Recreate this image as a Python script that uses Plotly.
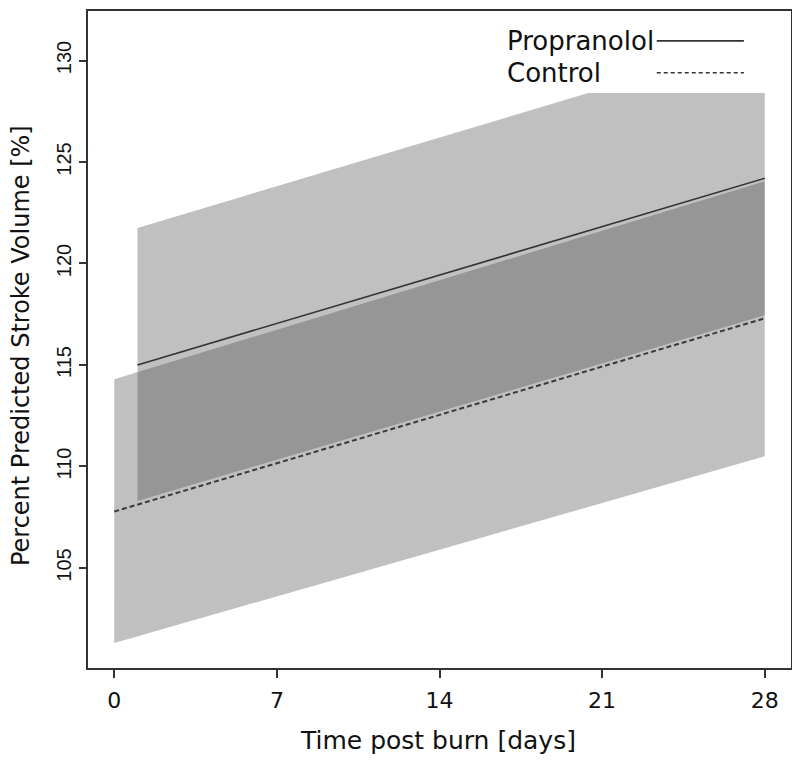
import plotly.graph_objects as go

# ---- data ----
prop_days = [1, 28]
prop_mean = [115.0, 124.2]
prop_upper_days = [1, 20.4, 28]
prop_upper = [121.75, 128.4, 128.4]
prop_lower_days = [1, 28]
prop_lower = [108.3, 117.45]

ctrl_days = [0, 28]
ctrl_mean = [107.78, 117.3]
ctrl_upper = [114.3, 124.05]
ctrl_lower = [101.3, 110.5]

x_ticks = [0, 7, 14, 21, 28]
y_ticks = [105, 110, 115, 120, 125, 130]
series_names = ["Propranolol", "Control"]

band_color = "rgba(66,66,66,0.333)"
line_color = "#333333"
dash_style = "5px,3px"

fig = go.Figure()

# confidence bands
fig.add_trace(go.Scatter(
    x=ctrl_days + ctrl_days[::-1],
    y=ctrl_upper + ctrl_lower[::-1],
    fill="toself", fillcolor=band_color, mode="none",
    hoverinfo="skip", showlegend=False))
fig.add_trace(go.Scatter(
    x=prop_upper_days + prop_lower_days[::-1],
    y=prop_upper + prop_lower[::-1],
    fill="toself", fillcolor=band_color, mode="none",
    hoverinfo="skip", showlegend=False))

# mean lines
fig.add_trace(go.Scatter(
    x=prop_days, y=prop_mean, mode="lines", name=series_names[0],
    line=dict(color=line_color, width=1.6), showlegend=False))
fig.add_trace(go.Scatter(
    x=ctrl_days, y=ctrl_mean, mode="lines", name=series_names[1],
    line=dict(color="#3a3a3a", width=2, dash=dash_style), showlegend=False))

# custom legend (text left of line sample)
leg_x_text = 0.593
leg_y = [0.9545, 0.906]
for name, yy, dash in zip(series_names, leg_y, ["solid", "4px,3px"]):
    fig.add_annotation(xref="paper", yref="paper", x=leg_x_text, y=yy,
                       text=name, showarrow=False, xanchor="left", yanchor="middle",
                       font=dict(family="DejaVu Sans", size=26, color="#111111"))
    fig.add_shape(type="line", xref="paper", yref="paper",
                  x0=0.809, x1=0.933, y0=yy, y1=yy,
                  line=dict(color=line_color, width=1.6, dash=dash))

# axis titles
fig.add_annotation(xref="paper", yref="paper", x=0.498, y=-0.111,
                   text="Time post burn [days]", showarrow=False,
                   xanchor="center", yanchor="middle",
                   font=dict(family="DejaVu Sans", size=25, color="#111111"))
fig.add_annotation(xref="paper", yref="paper", x=-0.0953, y=0.49,
                   text="Percent Predicted Stroke Volume [%]", showarrow=False,
                   textangle=-90, xanchor="center", yanchor="middle",
                   font=dict(family="DejaVu Sans", size=24, color="#111111"))

# page body has an 8px default margin: size/margins compensate for it
fig.update_layout(
    width=792, height=755,
    margin=dict(l=80, r=9, t=1, b=95),
    plot_bgcolor="white", paper_bgcolor="white",
    showlegend=False,
)
fig.update_xaxes(
    range=[-1.13, 29.13], tickvals=x_ticks, ticktext=[str(v) for v in x_ticks],
    showgrid=False, zeroline=False,
    showline=True, mirror=True, linecolor="#333333", linewidth=1.5,
    ticks="outside", ticklen=8, tickwidth=1.5, tickcolor="#333333",
    ticklabelstandoff=4,
    tickfont=dict(family="DejaVu Sans", size=22, color="#111111"),
)
fig.update_yaxes(
    range=[100.07, 132.44], tickvals=y_ticks, ticktext=[str(v) for v in y_ticks],
    showgrid=False, zeroline=False,
    showline=True, mirror=True, linecolor="#333333", linewidth=1.5,
    ticks="outside", ticklen=7, tickwidth=1.5, tickcolor="#333333",
    tickangle=-90,
    tickfont=dict(family="Liberation Sans", size=20, color="#111111"),
)

fig.write_html("out.html")
